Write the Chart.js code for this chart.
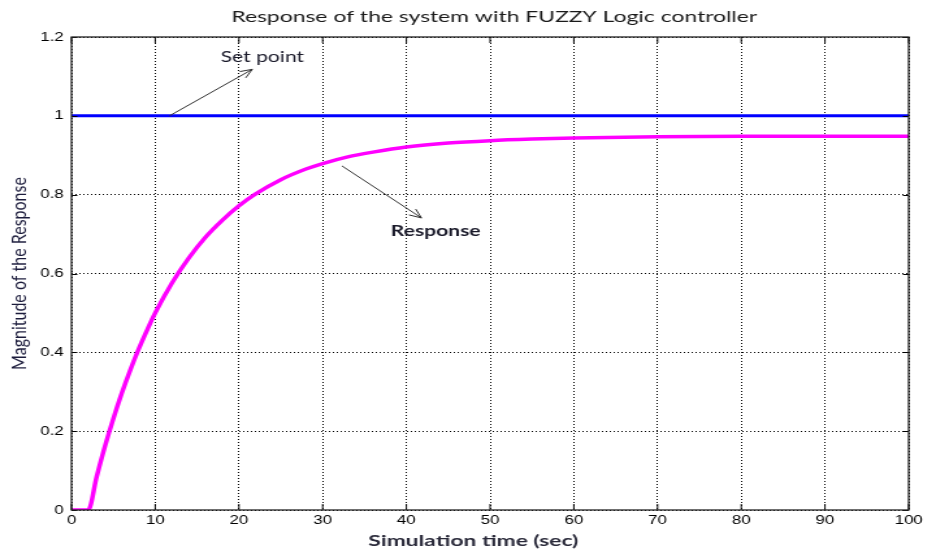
<!DOCTYPE html>
<html lang="en">
<head>
<meta charset="UTF-8">
<title>Response of the system with FUZZY Logic controller</title>
<script src="https://cdn.jsdelivr.net/npm/chart.js"></script>
<style>
  html, body { margin: 0; padding: 0; background: #fff; overflow: hidden; }
  /* the original figure is stretched sideways, so draw narrow and widen it */
  #wrap { width: 713px; height: 553px; transform: scaleX(1.3); transform-origin: 0 0; }
</style>
</head>
<body>
<div id="wrap"><canvas id="fuzzyChart" width="713" height="553"></canvas></div>
<script>
// time (sec) and values
const timeSec = [0, 1, 2, 3, 4, 5, 6, 7, 8, 9, 10, 12, 14, 16, 18, 20, 22, 25, 28, 30, 33, 36, 40, 45, 50, 55, 60, 70, 80, 90, 100];
const response = [0, 0, 0, 0.084, 0.162, 0.232, 0.296, 0.354, 0.407, 0.455, 0.500, 0.576, 0.639, 0.692, 0.735, 0.772, 0.802, 0.838, 0.865, 0.879, 0.896, 0.908, 0.921, 0.931, 0.937, 0.941, 0.944, 0.947, 0.948, 0.948, 0.948];
const setPoint = [1, 1, 1, 1, 1, 1, 1, 1, 1, 1, 1, 1, 1, 1, 1, 1, 1, 1, 1, 1, 1, 1, 1, 1, 1, 1, 1, 1, 1, 1, 1];
const xTicks = [0, 10, 20, 30, 40, 50, 60, 70, 80, 90, 100];
const yTicks = ['0', '0.2', '0.4', '0.6', '0.8', '1', '1.2'];

const chartTitle = 'Response of the system with FUZZY Logic controller';
const xTitle = 'Simulation time (sec)';

// annotation text and arrows, in data units
const labels = [
    { text: 'Set point', weight: 'normal', x: 22.8, y: 1.15, from: [11.7, 1.0], to: [21.6, 1.118] },
    { text: 'Response', weight: 'bold', x: 43.5, y: 0.708, from: [32.3, 0.873], to: [41.8, 0.741] }
];

// text that is a bit wider than the rest of the stretch
function wideText(ctx, text, cx, cy, font, color, sx) {
    ctx.save();
    ctx.font = font;
    ctx.fillStyle = color;
    ctx.textAlign = 'center';
    ctx.textBaseline = 'middle';
    ctx.translate(cx, cy);
    ctx.scale(sx, 1);
    ctx.fillText(text, 0, 0);
    ctx.restore();
}

const frameAndNotes = {
    id: 'frameAndNotes',
    afterDatasetsDraw(chart) {
        const { ctx, chartArea: a, scales: { x, y } } = chart;
        ctx.save();
        // inward tick marks
        ctx.strokeStyle = '#000';
        ctx.lineWidth = 1;
        ctx.beginPath();
        xTicks.forEach(v => {
            const px = x.getPixelForValue(v);
            ctx.moveTo(px, a.bottom); ctx.lineTo(px, a.bottom - 6);
            ctx.moveTo(px, a.top); ctx.lineTo(px, a.top + 6);
        });
        yTicks.forEach(t => {
            const py = Math.round(y.getPixelForValue(parseFloat(t))) + 0.5;
            ctx.moveTo(a.left, py); ctx.lineTo(a.left + 4.5, py);
            ctx.moveTo(a.right, py); ctx.lineTo(a.right - 4.5, py);
        });
        ctx.stroke();
        // box
        ctx.lineWidth = 1.3;
        ctx.strokeStyle = '#222';
        ctx.strokeRect(a.left, a.top, a.right - a.left, a.bottom - a.top);

        // arrows and labels
        labels.forEach(l => {
            const x0 = x.getPixelForValue(l.from[0]), y0 = y.getPixelForValue(l.from[1]);
            const x1 = x.getPixelForValue(l.to[0]), y1 = y.getPixelForValue(l.to[1]);
            ctx.strokeStyle = '#333';
            ctx.lineWidth = 1;
            ctx.beginPath();
            ctx.moveTo(x0, y0); ctx.lineTo(x1, y1);
            const ang = Math.atan2(y1 - y0, x1 - x0);
            ctx.moveTo(x1, y1);
            ctx.lineTo(x1 - 10 * Math.cos(ang - 0.4), y1 - 10 * Math.sin(ang - 0.4));
            ctx.moveTo(x1, y1);
            ctx.lineTo(x1 - 10 * Math.cos(ang + 0.4), y1 - 10 * Math.sin(ang + 0.4));
            ctx.stroke();
            wideText(ctx, l.text, x.getPixelForValue(l.x), y.getPixelForValue(l.y),
                l.weight + ' 15px Lato, "Open Sans", sans-serif', '#1a1a2a', 1.08);
        });
        ctx.restore();

        // chart title and x axis title
        wideText(ctx, chartTitle, x.getPixelForValue(50.5), 17,
            '16px Lato, "Open Sans", sans-serif', '#1a1a1a', 1.1);
        wideText(ctx, xTitle, x.getPixelForValue(48), 541,
            'bold 15px Lato, "Open Sans", sans-serif', '#2a2a3a', 1.17);
    }
};

new Chart(document.getElementById('fuzzyChart'), {
    type: 'line',
    data: {
        labels: timeSec,
        datasets: [
            { label: 'Set point', data: setPoint, borderColor: '#0000FF', borderWidth: 3, pointRadius: 0, tension: 0 },
            { label: 'Response', data: response, borderColor: '#FF00FF', borderWidth: 3.5, pointRadius: 0, cubicInterpolationMode: 'monotone' }
        ]
    },
    options: {
        responsive: false,
        animation: false,
        layout: { padding: { left: 0, right: 14, top: 37, bottom: 0 } },
        plugins: {
            legend: { display: false },
            tooltip: { enabled: false },
            title: { display: false }
        },
        scales: {
            x: {
                type: 'linear',
                min: 0, max: 100,
                afterFit(s) { s.height = 43; },
                ticks: {
                    stepSize: 10,
                    color: '#000',
                    padding: 3,
                    font: { family: '"Liberation Sans", Arial, sans-serif', size: 13 }
                },
                grid: { color: '#000', lineWidth: 1, drawTicks: false },
                border: { display: false, dash: [1, 2] }
            },
            y: {
                min: 0, max: 1.2,
                afterFit(s) { s.width = 55; },
                ticks: {
                    stepSize: 0.2,
                    color: '#000',
                    padding: 6,
                    font: { family: '"Liberation Sans", Arial, sans-serif', size: 13 },
                    callback: (v, i) => yTicks[i]
                },
                grid: { color: '#000', lineWidth: 1, drawTicks: false },
                border: { display: false, dash: [1, 2] },
                title: {
                    display: true,
                    text: 'Magnitude of the Response',
                    color: '#1c1c3c',
                    padding: { top: 5, bottom: 0 },
                    font: { family: 'Lato, "Open Sans", sans-serif', size: 16 }
                }
            }
        }
    },
    plugins: [frameAndNotes]
});
</script>
</body>
</html>
